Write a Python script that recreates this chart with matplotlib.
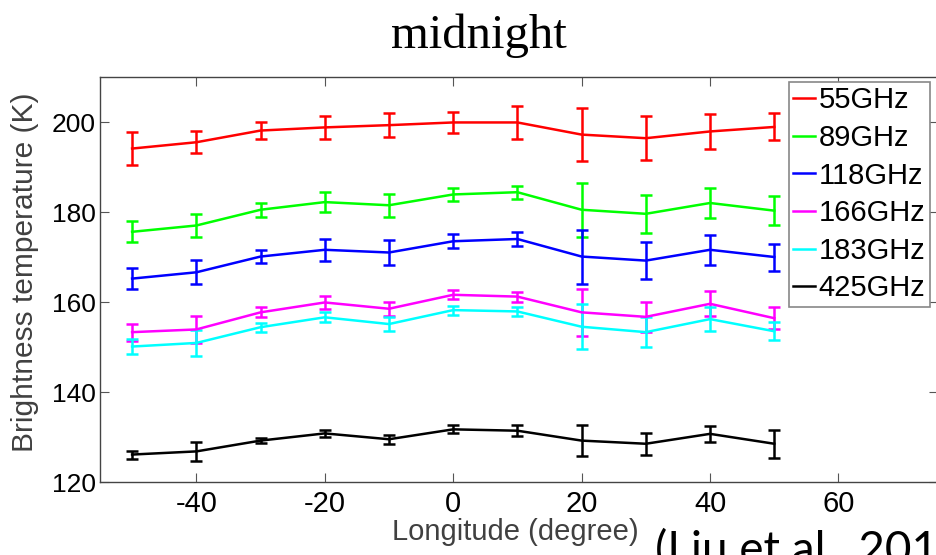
import matplotlib
matplotlib.use('Agg')
import matplotlib.pyplot as plt
from matplotlib.lines import Line2D

plt.rcParams['axes.unicode_minus'] = False

# longitude bins
lon = [-50, -40, -30, -20, -10, 0, 10, 20, 30, 40, 50]

# mean brightness temperature (K) and error bars, per channel
tb_55 = [194.1, 195.5, 198.1, 198.8, 199.3, 199.9, 199.9, 197.2, 196.4, 197.9, 198.9]
err_55 = [3.6, 2.4, 1.8, 2.6, 2.6, 2.3, 3.7, 5.9, 4.9, 3.9, 3.0]
tb_89 = [175.6, 177.0, 180.5, 182.2, 181.5, 183.9, 184.4, 180.5, 179.6, 182.0, 180.3]
err_89 = [2.3, 2.6, 1.5, 2.3, 2.5, 1.5, 1.4, 6.0, 4.2, 3.4, 3.2]
tb_118 = [165.2, 166.6, 170.1, 171.6, 171.0, 173.5, 174.0, 170.1, 169.2, 171.6, 170.0]
err_118 = [2.4, 2.7, 1.4, 2.4, 2.7, 1.6, 1.6, 6.0, 4.1, 3.4, 3.0]
tb_166 = [153.3, 153.9, 157.7, 159.9, 158.5, 161.6, 161.2, 157.7, 156.7, 159.6, 156.4]
err_166 = [1.9, 3.0, 1.1, 1.5, 1.5, 1.0, 1.1, 5.2, 3.4, 2.8, 2.5]
tb_183 = [150.1, 150.9, 154.4, 156.6, 155.1, 158.2, 157.9, 154.5, 153.3, 156.2, 153.5]
err_183 = [1.6, 2.8, 1.0, 1.1, 1.5, 1.0, 1.0, 5.0, 3.4, 2.7, 2.0]
tb_425 = [126.1, 126.8, 129.2, 130.8, 129.5, 131.7, 131.4, 129.2, 128.5, 130.7, 128.5]
err_425 = [0.9, 2.1, 0.6, 0.8, 1.0, 0.9, 1.2, 3.4, 2.5, 1.7, 3.1]

series = [
    ('55GHz', tb_55, err_55, '#ff0000'),
    ('89GHz', tb_89, err_89, '#00ff00'),
    ('118GHz', tb_118, err_118, '#0000ff'),
    ('166GHz', tb_166, err_166, '#ff00ff'),
    ('183GHz', tb_183, err_183, '#00ffff'),
    ('425GHz', tb_425, err_425, '#000000'),
]

W, H = 936, 555
fig = plt.figure(figsize=(W / 100, H / 100), dpi=100)
ax = fig.add_axes([100 / W, 1 - 482 / H, 838 / W, 405 / H])

handles = []
for name, y, e, c in series:
    ax.errorbar(lon, y, yerr=e, color=c, lw=1.8, elinewidth=1.8,
                capsize=4.4, capthick=1.8)
    handles.append(Line2D([], [], color=c, lw=1.8, label=name))

ax.set_xlim(-55, 75.5)
ax.set_ylim(120, 210)
ax.set_xticks([-40, -20, 0, 20, 40, 60])
ax.set_yticks([120, 140, 160, 180, 200])
ax.tick_params(direction='in', length=6.5, width=0.8, color='#555555',
               top=True, right=True, labelcolor='black')
ax.tick_params(axis='x', labelsize=21, pad=6)
ax.tick_params(axis='y', labelsize=19, pad=3)
for s in ax.spines.values():
    s.set_color('#444444')
    s.set_linewidth(1.0)
for lab in ax.get_xticklabels() + ax.get_yticklabels():
    lab.set_family('Liberation Sans')

fig.text(479 / W, 1 - 48 / H, 'midnight', family='Liberation Serif',
         fontsize=35, ha='center', va='baseline')
fig.text(25 / W, 1 - 272 / H, 'Brightness temperature (K)', rotation=90,
         family='Liberation Sans', fontsize=21.5, color='#404040',
         ha='center', va='center')
fig.text(515 / W, 1 - 532 / H, 'Longitude (degree)', family='Liberation Sans',
         fontsize=21, color='#404040', ha='center', va='center')
# citation, cut by the bottom edge as in the source slide
fig.text(655 / W, 1 - 564 / H, '(Liu et al., 2019)', family='Lato',
         fontsize=33, color='black', ha='left', va='baseline')

leg = ax.legend(handles=handles, loc='upper left',
                bbox_to_anchor=(789 / W, 1 - 82 / H),
                bbox_transform=fig.transFigure, borderaxespad=0,
                prop={'family': 'Liberation Sans', 'size': 21},
                handlelength=0.75, handletextpad=0.12, labelspacing=0.33,
                borderpad=0.15, fancybox=False, framealpha=1)
leg.get_frame().set_edgecolor('#888888')
leg.get_frame().set_linewidth(1.2)

fig.savefig('out.png', dpi=100)
